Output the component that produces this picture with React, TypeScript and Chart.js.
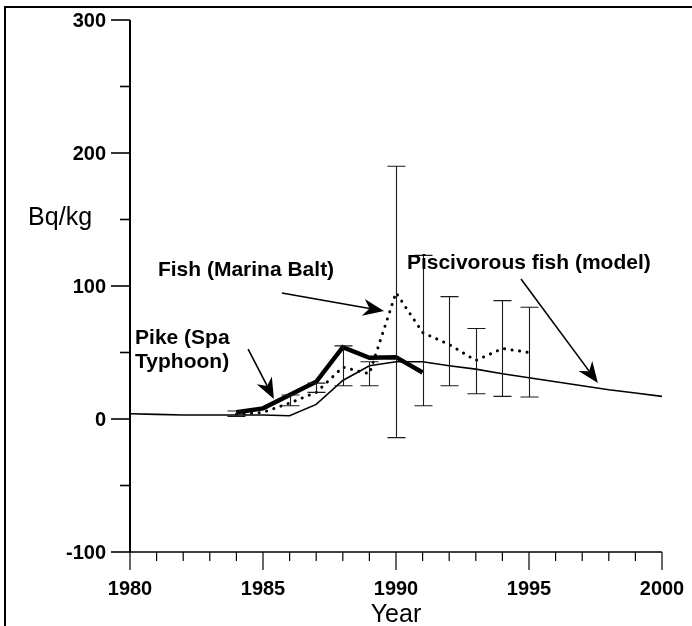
import React, { useEffect, useRef } from "react";
import { Chart, registerables } from "chart.js";
Chart.register(...registerables);

// ---- data ----
const modelYears = [1980, 1981, 1982, 1983, 1984, 1985, 1986, 1987, 1988, 1989, 1990, 1991, 1992, 1993, 1994, 1995, 1996, 1997, 1998, 1999, 2000];
const modelValues = [4, 3.5, 3, 3, 3, 3, 2.5, 11, 29, 40, 43, 43, 40, 37.5, 34, 31, 28, 25, 22, 19.5, 17];

const pikeYears = [1984, 1985, 1986, 1987, 1988, 1989, 1990, 1991];
const pikeValues = [5, 8, 18, 28, 54, 46, 46.5, 35];

const fishYears = [1984, 1985, 1986, 1987, 1988, 1989, 1990, 1991, 1992, 1993, 1994, 1995];
const fishValues = [3.5, 5, 12, 20, 39, 34, 95, 65, 56, 44, 53, 50];

const errYears = [1984, 1986, 1987, 1988, 1989, 1990, 1991, 1992, 1993, 1994, 1995];
const errLow = [2, 10, 20, 25, 25, -14, 10, 25, 19, 17, 16.5];
const errHigh = [6, 18, 27, 55, 43, 190, 123, 92, 68, 89, 84];

const yTickValues = [-100, 0, 100, 200, 300];
const xTickValues = [1980, 1985, 1990, 1995, 2000];

// annotation texts (anchored in data units)
const labelTexts = ["Fish (Marina Balt)", "Pike (Spa", "Typhoon)", "Piscivorous fish (model)"];
const labelX = [1981.05, 1980.19, 1980.19, 1990.41];
const labelY = [112, 60.9, 42.9, 117.3];
const unitText = "Bq/kg";
const unitPos = [1976.17, 151];
const xTitle = "Year";

// arrows: tail (x,y) -> tip (x,y) in data units
const arrowTailX = [1985.71, 1984.44, 1994.7];
const arrowTailY = [94.7, 52.6, 105.3];
const arrowTipX = [1989.55, 1985.41, 1997.59];
const arrowTipY = [81.2, 15, 27.1];

const FONT = "'Liberation Sans', Arial, Helvetica, sans-serif";

function drawArrow(ctx: CanvasRenderingContext2D, x1: number, y1: number, x2: number, y2: number) {
  const dx = x2 - x1, dy = y2 - y1;
  const len = Math.hypot(dx, dy);
  const ux = dx / len, uy = dy / len;
  const nx = -uy, ny = ux;
  const hl = 21, hw = 8.5;
  const bx = x2 - ux * hl, by = y2 - uy * hl;
  const mx = x2 - ux * hl * 0.7, my = y2 - uy * hl * 0.7;
  ctx.beginPath();
  ctx.moveTo(x1, y1);
  ctx.lineTo(mx, my);
  ctx.lineWidth = 1.6;
  ctx.strokeStyle = "#000";
  ctx.stroke();
  ctx.beginPath();
  ctx.moveTo(x2, y2);
  ctx.lineTo(bx + nx * hw, by + ny * hw);
  ctx.lineTo(mx, my);
  ctx.lineTo(bx - nx * hw, by - ny * hw);
  ctx.closePath();
  ctx.fillStyle = "#000";
  ctx.fill();
}

const decorPlugin = {
  id: "decor",
  beforeDraw(chart: any) {
    const ctx = chart.ctx as CanvasRenderingContext2D;
    ctx.save();
    ctx.fillStyle = "#fff";
    ctx.fillRect(0, 0, chart.width, chart.height);
    // frame (top and left)
    ctx.strokeStyle = "#000";
    ctx.lineWidth = 2;
    ctx.beginPath();
    ctx.moveTo(5, chart.height);
    ctx.lineTo(5, 7);
    ctx.lineTo(chart.width, 7);
    ctx.stroke();
    ctx.restore();
  },
  afterDatasetsDraw(chart: any) {
    const ctx = chart.ctx as CanvasRenderingContext2D;
    const xs = chart.scales.x;
    const ys = chart.scales.y;
    ctx.save();
    // error bars
    ctx.strokeStyle = "#1a1a1a";
    ctx.lineWidth = 1.1;
    for (let i = 0; i < errYears.length; i++) {
      const px = Math.round(xs.getPixelForValue(errYears[i])) + 0.5;
      const pl = ys.getPixelForValue(errLow[i]);
      const ph = ys.getPixelForValue(errHigh[i]);
      ctx.beginPath();
      ctx.moveTo(px, pl);
      ctx.lineTo(px, ph);
      ctx.moveTo(px - 9, pl);
      ctx.lineTo(px + 9, pl);
      ctx.moveTo(px - 9, ph);
      ctx.lineTo(px + 9, ph);
      ctx.stroke();
    }
    // axes
    const left = xs.left, right = xs.right;
    const top = ys.top, bottom = ys.bottom;
    ctx.strokeStyle = "#000";
    ctx.lineWidth = 2;
    ctx.beginPath();
    ctx.moveTo(left, top);
    ctx.lineTo(left, bottom);
    ctx.stroke();
    ctx.lineWidth = 1.5;
    ctx.beginPath();
    ctx.moveTo(left, bottom);
    ctx.lineTo(right, bottom);
    ctx.stroke();
    // y ticks
    ctx.lineWidth = 1.6;
    for (let v = -100; v <= 300; v += 50) {
      const py = ys.getPixelForValue(v);
      const major = v % 100 === 0;
      ctx.beginPath();
      ctx.moveTo(left - (major ? 19 : 10), py);
      ctx.lineTo(left, py);
      ctx.stroke();
    }
    // x ticks
    ctx.lineWidth = 1.2;
    for (let yr = 1980; yr <= 2000; yr++) {
      const px = xs.getPixelForValue(yr);
      const major = yr % 5 === 0;
      ctx.beginPath();
      ctx.moveTo(px, bottom);
      ctx.lineTo(px, bottom + (major ? 18 : 9));
      ctx.stroke();
    }
    // tick labels
    ctx.fillStyle = "#000";
    ctx.textBaseline = "middle";
    ctx.font = `bold 20px ${FONT}`;
    ctx.textAlign = "right";
    for (const v of yTickValues) {
      ctx.fillText(String(v), left - 24, ys.getPixelForValue(v) + 1);
    }
    ctx.textAlign = "center";
    for (const v of xTickValues) {
      ctx.fillText(String(v), xs.getPixelForValue(v), bottom + 37);
    }
    // annotation texts
    ctx.textAlign = "left";
    ctx.font = `bold 21px ${FONT}`;
    for (let i = 0; i < labelTexts.length; i++) {
      ctx.fillText(labelTexts[i], xs.getPixelForValue(labelX[i]), ys.getPixelForValue(labelY[i]));
    }
    ctx.font = `25px ${FONT}`;
    ctx.fillText(unitText, xs.getPixelForValue(unitPos[0]), ys.getPixelForValue(unitPos[1]));
    ctx.textAlign = "center";
    ctx.font = `25px ${FONT}`;
    ctx.fillText(xTitle, (left + right) / 2, bottom + 63);
    // arrows
    for (let i = 0; i < arrowTailX.length; i++) {
      drawArrow(
        ctx,
        xs.getPixelForValue(arrowTailX[i]),
        ys.getPixelForValue(arrowTailY[i]),
        xs.getPixelForValue(arrowTipX[i]),
        ys.getPixelForValue(arrowTipY[i])
      );
    }
    ctx.restore();
  },
};

export default function App() {
  const ref = useRef<HTMLCanvasElement | null>(null);
  useEffect(() => {
    if (!ref.current) return;
    const toXY = (xsArr: number[], ysArr: number[]) => xsArr.map((x, i) => ({ x, y: ysArr[i] }));
    const chart = new Chart(ref.current, {
      type: "line",
      data: {
        datasets: [
          {
            label: "Piscivorous fish (model)",
            data: toXY(modelYears, modelValues),
            borderColor: "#000",
            borderWidth: 1.6,
            pointRadius: 0,
            tension: 0,
          },
          {
            label: "Fish (Marina Balt)",
            data: toXY(fishYears, fishValues),
            borderColor: "#000",
            borderWidth: 3,
            borderDash: [0.1, 7.5],
            borderCapStyle: "round",
            pointRadius: 0,
            tension: 0,
          },
          {
            label: "Pike (Spa Typhoon)",
            data: toXY(pikeYears, pikeValues),
            borderColor: "#000",
            borderWidth: 4.5,
            pointRadius: 0,
            tension: 0,
          },
        ],
      },
      options: {
        animation: false,
        responsive: false,
        devicePixelRatio: 1,
        layout: { padding: { top: 20, right: 30, left: 0, bottom: 0 } },
        plugins: { legend: { display: false }, tooltip: { enabled: false }, title: { display: false } },
        scales: {
          x: {
            type: "linear",
            min: 1980,
            max: 2000,
            border: { display: false },
            grid: { display: false, drawTicks: false },
            afterFit: (s: any) => {
              s.height = 74;
              s.paddingLeft = 0;
              s.paddingRight = 0;
            },
            ticks: { display: false },
          },
          y: {
            type: "linear",
            min: -100,
            max: 300,
            border: { display: false },
            grid: { display: false, drawTicks: false },
            afterFit: (s: any) => {
              s.width = 130;
              s.paddingTop = 0;
              s.paddingBottom = 0;
            },
            ticks: { display: false },
          },
        },
      },
      plugins: [decorPlugin],
    } as any);
    return () => chart.destroy();
  }, []);
  return (
    <div style={{ position: "fixed", left: 0, top: 0, width: 692, height: 626, background: "#fff" }}>
      <canvas ref={ref} width={692} height={626} style={{ width: 692, height: 626, display: "block" }} />
    </div>
  );
}
